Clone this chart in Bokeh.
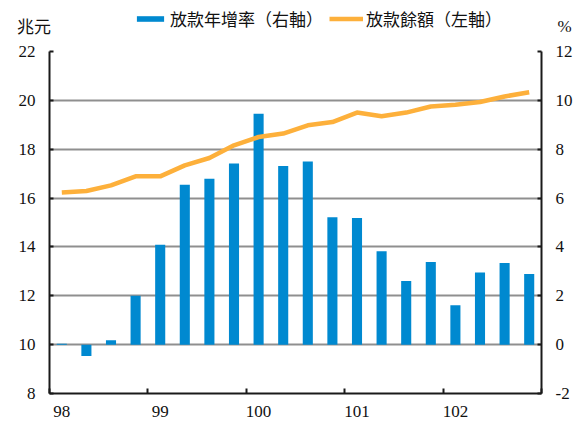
from bokeh.plotting import figure
from bokeh.models import Range1d, LinearAxis, FixedTicker, Legend, LegendItem, Label
from bokeh.embed import file_html
from bokeh.resources import INLINE

# ---- data ----
quarters = ["98Q1", "98Q2", "98Q3", "98Q4", "99Q1", "99Q2", "99Q3", "99Q4",
            "100Q1", "100Q2", "100Q3", "100Q4", "101Q1", "101Q2", "101Q3", "101Q4",
            "102Q1", "102Q2", "102Q3", "102Q4"]
year_labels = ["98", "99", "100", "101", "102"]
growth = [0.04, -0.46, 0.18, 2.00, 4.09, 6.55, 6.79, 7.42, 9.45, 7.31,
          7.50, 5.21, 5.18, 3.82, 2.61, 3.38, 1.61, 2.95, 3.34, 2.89]      # 放款年增率 (%)
balance = [16.23, 16.29, 16.52, 16.89, 16.89, 17.34, 17.64, 18.16, 18.50, 18.64,
           18.98, 19.11, 19.50, 19.35, 19.50, 19.75, 19.82, 19.93, 20.16, 20.33]  # 放款餘額 (兆元)
left_ticks = [8, 10, 12, 14, 16, 18, 20, 22]
right_ticks = [-2, 0, 2, 4, 6, 8, 10, 12]
bar_label = "放款年增率（右軸）"
line_label = "放款餘額（左軸）"
left_unit = "兆元"
right_unit = "%"

BLUE = "#0089d0"
ORANGE = "#fdb03b"
AXIS = "#1a1a1a"
TXT = "#111111"
NUM_FONT = "'Liberation Serif', 'Times New Roman', serif"
CJK_FONT = "'Noto Sans CJK TC', sans-serif"

W = 582
TOP_H = 36
MAIN_H = 387

x = list(range(len(quarters)))
n = len(quarters)

# ---------- header strip (legend + unit labels) ----------
top = figure(width=W, height=TOP_H, output_backend="svg", toolbar_location=None,
             x_range=Range1d(0, W), y_range=Range1d(0, TOP_H),
             min_border=0, min_border_left=0, min_border_right=0,
             min_border_top=0, min_border_bottom=0,
             x_axis_type=None, y_axis_type=None)
top.outline_line_color = None
top.xgrid.visible = False
top.ygrid.visible = False
top.background_fill_color = "white"
top.border_fill_color = "white"
# legend proxies: same series, mapped onto a range far outside the strip
top.extra_y_ranges = {"hidden": Range1d(1000, 1001)}
proxy_bar = top.vbar(x=x, top=growth, bottom=0, width=0.41, y_range_name="hidden",
                     fill_color=BLUE, line_color=None)
proxy_line = top.line(x=x, y=balance, y_range_name="hidden",
                      line_color=ORANGE, line_width=4.5)

legend = Legend(items=[LegendItem(label=bar_label, renderers=[proxy_bar]),
                       LegendItem(label=line_label, renderers=[proxy_line])],
                orientation="horizontal", location=(133, 5),
                border_line_color=None, background_fill_alpha=0,
                padding=0, margin=0, glyph_width=34, glyph_height=7,
                label_standoff=3, spacing=6,
                label_text_font=CJK_FONT, label_text_font_size="17px",
                label_text_color=TXT)
top.add_layout(legend)
top.add_layout(Label(x=33.5, y=TOP_H - 24.5, text=left_unit, text_align="center",
                     text_baseline="middle", text_font=CJK_FONT,
                     text_font_size="17px", text_color=TXT))
top.add_layout(Label(x=557, y=TOP_H - 26, text=right_unit, text_align="left",
                     text_baseline="middle", text_font=NUM_FONT,
                     text_font_size="17px", text_color=TXT))

# ---------- main chart ----------
p = figure(width=W, height=MAIN_H, output_backend="svg", toolbar_location=None,
           x_range=Range1d(-0.5, n - 0.5), y_range=Range1d(8, 22),
           min_border_left=49, min_border_right=41,
           min_border_top=51 - TOP_H, min_border_bottom=MAIN_H - (393 - TOP_H))
p.extra_y_ranges = {"pct": Range1d(-2, 12)}
p.outline_line_color = None
p.background_fill_color = "white"
p.border_fill_color = "white"

bars = p.vbar(x=x, top=growth, bottom=0, width=0.41, y_range_name="pct",
              fill_color=BLUE, line_color=None)
line = p.line(x=x, y=balance, line_color=ORANGE, line_width=4.5, line_join="round")

# x axis
xa = p.xaxis[0]
major = [i * 4 for i in range(len(year_labels))]
xa.ticker = FixedTicker(ticks=major, minor_ticks=[m - 0.5 for m in major] + [n - 0.5])
xa.major_label_overrides = {m: lab for m, lab in zip(major, year_labels)}
xa.major_tick_in = 0
xa.major_tick_out = 0
xa.minor_tick_in = 5
xa.minor_tick_out = 0
xa.minor_tick_line_width = 2
xa.minor_tick_line_color = AXIS
xa.axis_line_width = 2
xa.axis_line_color = AXIS
xa.major_label_standoff = 12
xa.major_label_text_font = NUM_FONT
xa.major_label_text_font_size = "17px"
xa.major_label_text_color = TXT
p.xgrid.visible = False


def style_y(ax):
    ax.major_tick_in = 4
    ax.major_tick_out = 0
    ax.minor_tick_in = 0
    ax.minor_tick_out = 0
    ax.major_tick_line_width = 2
    ax.major_tick_line_color = AXIS
    ax.axis_line_width = 2
    ax.axis_line_color = AXIS
    ax.major_label_standoff = 14
    ax.major_label_text_font = NUM_FONT
    ax.major_label_text_font_size = "17px"
    ax.major_label_text_color = TXT


ya = p.yaxis[0]
ya.ticker = FixedTicker(ticks=left_ticks)
style_y(ya)

ra = LinearAxis(y_range_name="pct", ticker=FixedTicker(ticks=right_ticks))
ra.major_label_overrides = {t: str(t) for t in right_ticks}
style_y(ra)
p.add_layout(ra, "right")

p.ygrid.ticker = FixedTicker(ticks=left_ticks)
p.ygrid.grid_line_color = "#8f8f8f"
p.ygrid.grid_line_width = 2

open("out.html", "w").write(file_html([top, p], INLINE))
